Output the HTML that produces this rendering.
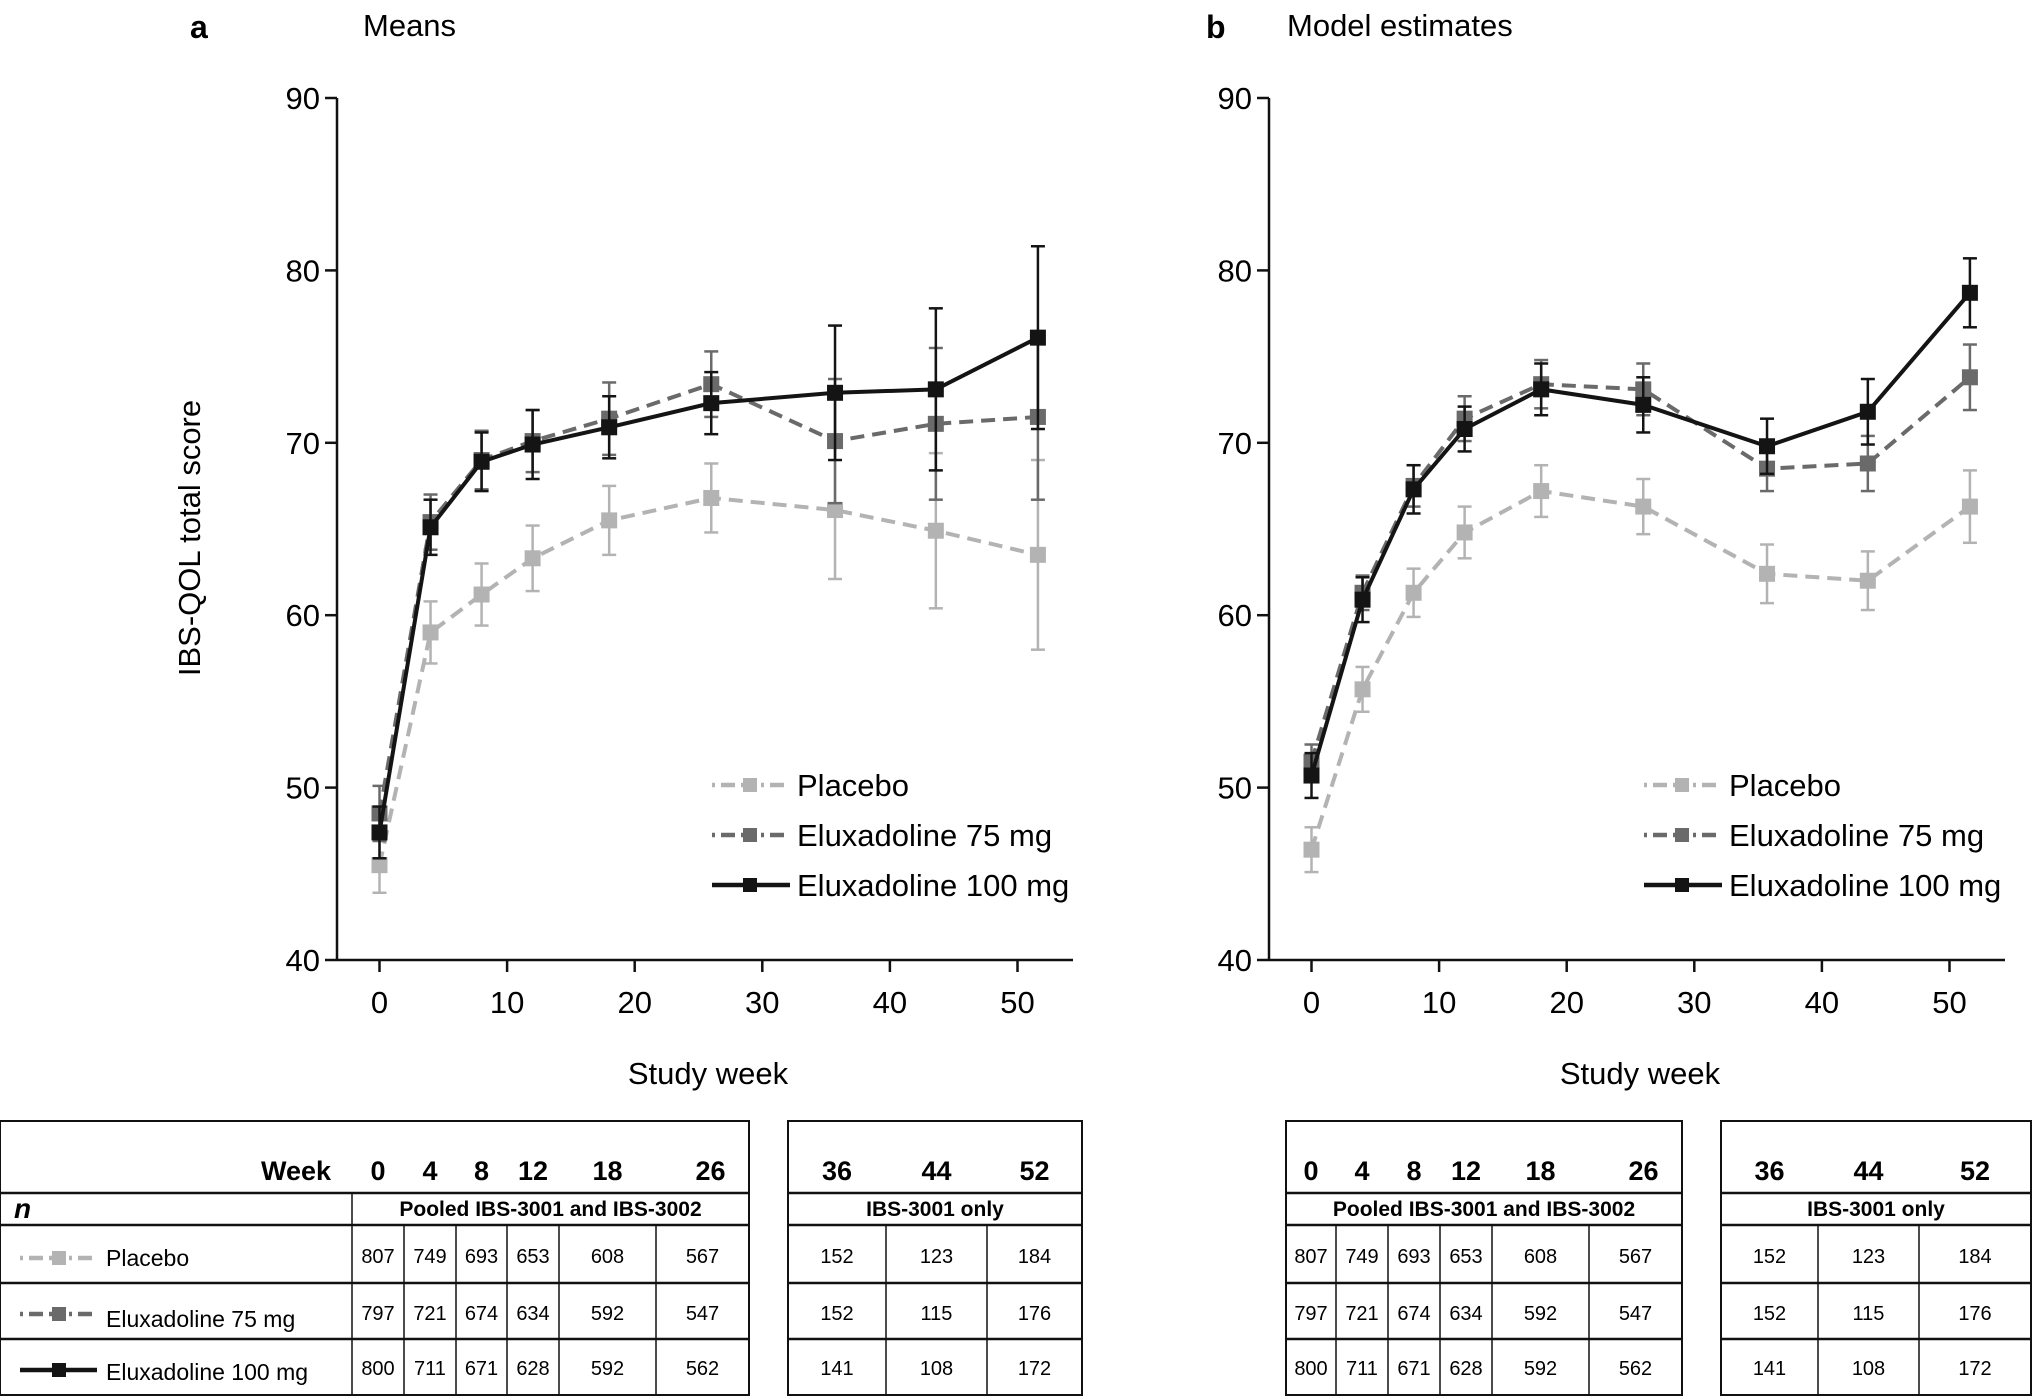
<!DOCTYPE html>
<html><head><meta charset="utf-8"><style>
html,body{margin:0;padding:0;background:#fff}
svg{display:block;font-family:"Liberation Sans",Arial,sans-serif}
</style></head><body>
<svg id="chart" width="2032" height="1397" viewBox="0 0 2032 1397" xmlns="http://www.w3.org/2000/svg"></svg>
<script>
const weeks=[0,4,8,12,18,26,35.7,43.6,51.6];
const meansPlacebo=[45.5,59,61.2,63.3,65.5,66.8,66.1,64.9,63.5];
const meansPlaceboErr=[1.6,1.8,1.8,1.9,2,2,4,4.5,5.5];
const means75=[48.5,65.4,69,70.1,71.4,73.4,70.1,71.1,71.5];
const means75Err=[1.6,1.6,1.7,1.8,2.1,1.9,3.6,4.4,4.8];
const means100=[47.4,65.1,68.9,69.9,70.9,72.3,72.9,73.1,76.1];
const means100Err=[1.5,1.6,1.7,2,1.8,1.8,3.9,4.7,5.3];
const modelPlacebo=[46.4,55.7,61.3,64.8,67.2,66.3,62.4,62,66.3];
const modelPlaceboErr=[1.3,1.3,1.4,1.5,1.5,1.6,1.7,1.7,2.1];
const model75=[51.5,61.3,67.5,71.4,73.4,73.1,68.5,68.8,73.8];
const model75Err=[1,1,1.2,1.3,1.4,1.5,1.3,1.6,1.9];
const model100=[50.7,60.9,67.3,70.8,73.1,72.2,69.8,71.8,78.7];
const model100Err=[1.3,1.3,1.4,1.3,1.5,1.6,1.6,1.9,2];
const yTicks=[40,50,60,70,80,90];
const xTicks=[0,10,20,30,40,50];
const tableWeeksPooled=["0","4","8","12","18","26"];
const tableWeeksOnly=["36","44","52"];
const nPlacebo=[807,749,693,653,608,567,152,123,184];
const n75=[797,721,674,634,592,547,152,115,176];
const n100=[800,711,671,628,592,562,141,108,172];

const svg=document.getElementById('chart');
const NS='http://www.w3.org/2000/svg';
function mk(tag,attrs,parent,text){const e=document.createElementNS(NS,tag);for(const k in attrs)e.setAttribute(k,attrs[k]);if(text!==undefined)e.textContent=text;(parent||svg).appendChild(e);return e;}

const styles=[
 {name:'Placebo',color:'#b3b3b3',dash:'14 8'},
 {name:'Eluxadoline 75 mg',color:'#6a6a6a',dash:'14 8'},
 {name:'Eluxadoline 100 mg',color:'#141414',dash:''}];

function panel(off,labelX,titleX,label,title,series,errs,key){
  const g=mk('g',{});
  
  
  const X=v=>off+379.5+v*12.76, Y=v=>960-(v-40)*17.24;
  let t=mk('text',{x:labelX,y:38,'font-size':32,'font-weight':'bold'},g,label);
  
  t=mk('text',{x:titleX,y:36,'font-size':31},g,title);
  
  let a=mk('line',{x1:off+337,y1:98,x2:off+337,y2:960,stroke:'#111','stroke-width':2.5},g);
  
  a=mk('line',{x1:off+337,y1:960,x2:off+1073,y2:960,stroke:'#111','stroke-width':2.5},g);
  
  yTicks.forEach(v=>{mk('line',{x1:off+325,x2:off+337,y1:Y(v),y2:Y(v),stroke:'#111','stroke-width':2.5},g);
    const tt=mk('text',{x:off+320,y:Y(v)+11,'font-size':31,'text-anchor':'end'},g,v);
    });
  xTicks.forEach(v=>{mk('line',{x1:X(v),x2:X(v),y1:960,y2:972,stroke:'#111','stroke-width':2.5},g);
    const tt=mk('text',{x:X(v),y:1013,'font-size':31,'text-anchor':'middle'},g,v);
    });
  t=mk('text',{x:off+708,y:1084,'font-size':31,'text-anchor':'middle'},g,'Study week');
  
  if(key==='means'){t=mk('text',{x:0,y:0,'font-size':31,'text-anchor':'middle',transform:'translate(200,538) rotate(-90)'},g,'IBS-QOL total score');
    }
  series.forEach((s,i)=>{
    const st=styles[i];
    const sg=mk('g',{},g);
    
    
    s.forEach((v,j)=>{const e=errs[i][j];
      mk('line',{x1:X(weeks[j]),x2:X(weeks[j]),y1:Y(v-e),y2:Y(v+e),stroke:st.color,'stroke-width':2.5},sg);
      mk('line',{x1:X(weeks[j])-7,x2:X(weeks[j])+7,y1:Y(v-e),y2:Y(v-e),stroke:st.color,'stroke-width':2.5},sg);
      mk('line',{x1:X(weeks[j])-7,x2:X(weeks[j])+7,y1:Y(v+e),y2:Y(v+e),stroke:st.color,'stroke-width':2.5},sg);});
    const p=mk('polyline',{points:s.map((v,j)=>X(weeks[j])+','+Y(v)).join(' '),fill:'none',stroke:st.color,'stroke-width':4,'stroke-dasharray':st.dash},sg);
    
    s.forEach((v,j)=>{const r=mk('rect',{x:X(weeks[j])-8,y:Y(v)-8,width:16,height:16,fill:st.color},sg);
      });
    const ly=785+i*50;
    const lg=mk('g',{},g);
    
    mk('line',{x1:off+712,x2:off+790,y1:ly,y2:ly,stroke:st.color,'stroke-width':4.5,'stroke-dasharray':st.dash?'3 6 14 6 14 6':''},lg);
    mk('rect',{x:off+743,y:ly-7,width:14,height:14,fill:st.color},lg);
    mk('text',{x:off+797,y:ly+11,'font-size':31},lg,st.name);
  });
}
panel(0,190,363,'a','Means',[meansPlacebo,means75,means100],[meansPlaceboErr,means75Err,means100Err],'means');
panel(932,1206,1287,'b','Model estimates',[modelPlacebo,model75,model100],[modelPlaceboErr,model75Err,model100Err],'model');

const rowsY=[1121,1193,1225,1283,1339,1395];
function table(x0,x1,cols,heads,nlabel,vals,labels,name){
  const g=mk('g',{});
  
  mk('rect',{x:x0,y:1121,width:x1-x0,height:274,fill:'none',stroke:'#111','stroke-width':2},g);
  rowsY.slice(1,5).forEach(y=>mk('line',{x1:x0,x2:x1,y1:y,y2:y,stroke:'#111','stroke-width':2.5},g));
  const edges=cols.concat([x1]);
  cols.slice(1).forEach(c=>mk('line',{x1:c,x2:c,y1:1225,y2:1395,stroke:'#111','stroke-width':1.5},g));
  if(labels) mk('line',{x1:cols[0],x2:cols[0],y1:1193,y2:1395,stroke:'#111','stroke-width':1.5},g);
  const centers=[];for(let i=0;i<edges.length-1;i++)centers.push((edges[i]+edges[i+1])/2);
  heads.forEach((h,i)=>{const cx=i===heads.length-1&&heads.length===6?centers[i]+8:centers[i];mk('text',{x:cx,y:1180,'font-size':27,'font-weight':'bold','text-anchor':'middle'},g,h);});
  mk('text',{x:(edges[0]+x1)/2,y:1216,'font-size':21,'font-weight':'bold','text-anchor':'middle'},g,nlabel);
  const ys=[1265,1322,1377];
  vals.forEach((row,r)=>row.forEach((v,i)=>mk('text',{x:centers[i],y:ys[r]-2,'font-size':20,'text-anchor':'middle'},g,v)));
  if(labels){
    mk('text',{x:331,y:1180,'font-size':27,'font-weight':'bold','text-anchor':'end'},g,'Week');
    mk('text',{x:14,y:1218,'font-size':28,'font-weight':'bold','font-style':'italic'},g,'n');
    styles.forEach((st,i)=>{const y=[1258,1314,1370][i];
      mk('line',{x1:20,x2:97,y1:y,y2:y,stroke:st.color,'stroke-width':4.5,'stroke-dasharray':st.dash?'3 6 14 6 14 6':''},g);
      mk('rect',{x:52,y:y-7,width:14,height:14,fill:st.color},g);
      mk('text',{x:106,y:[1266,1327,1380][i],'font-size':23},g,st.name);});
  }
}
table(0,749,[352,404,456,507,559,656],tableWeeksPooled,'Pooled IBS-3001 and IBS-3002',[nPlacebo.slice(0,6),n75.slice(0,6),n100.slice(0,6)],true,'n-table-pooled-a');
table(788,1082,[788,886,987],tableWeeksOnly,'IBS-3001 only',[nPlacebo.slice(6),n75.slice(6),n100.slice(6)],false,'n-table-3001-a');
table(1286,1682,[1286,1336,1388,1440,1492,1589],tableWeeksPooled,'Pooled IBS-3001 and IBS-3002',[nPlacebo.slice(0,6),n75.slice(0,6),n100.slice(0,6)],false,'n-table-pooled-b');
table(1721,2031,[1721,1818,1919],tableWeeksOnly,'IBS-3001 only',[nPlacebo.slice(6),n75.slice(6),n100.slice(6)],false,'n-table-3001-b');
</script>
</body></html>
